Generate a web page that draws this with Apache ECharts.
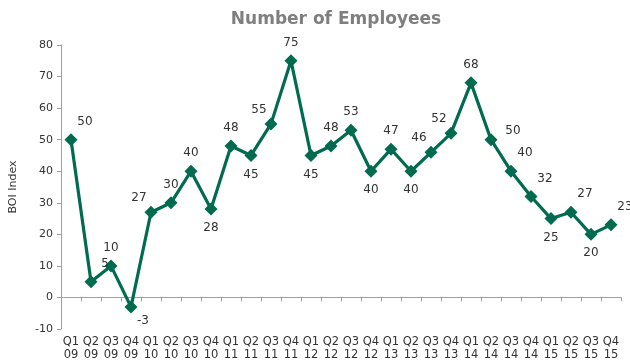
<!DOCTYPE html>
<html>
<head>
<meta charset="utf-8">
<script src="https://cdn.jsdelivr.net/npm/echarts@6/dist/echarts.min.js"></script>
<style>
  html, body { margin: 0; padding: 0; background: #fff; }
  #chart { width: 630px; height: 362px; }
</style>
</head>
<body>
<div id="chart"></div>
<script>
// Quarterly BOI index for number of employees
const quarters = ['Q1\n09','Q2\n09','Q3\n09','Q4\n09','Q1\n10','Q2\n10','Q3\n10','Q4\n10',
  'Q1\n11','Q2\n11','Q3\n11','Q4\n11','Q1\n12','Q2\n12','Q3\n12','Q4\n12',
  'Q1\n13','Q2\n13','Q3\n13','Q4\n13','Q1\n14','Q2\n14','Q3\n14','Q4\n14',
  'Q1\n15','Q2\n15','Q3\n15','Q4\n15'];
const employees = [50, 5, 10, -3, 27, 30, 40, 28, 48, 45, 55, 75, 45, 48, 53, 40,
  47, 40, 46, 52, 68, 50, 40, 32, 25, 27, 20, 23];
const yTicks = { min: -10, max: 80, interval: 10 };

// where each value label sits relative to its marker
const labelSpots = ['tr','tr','t','br','tl','t','t','b','t','b','tl','t','b','t','t','b',
  't','b','tl','tl','t','r','tr','tr','b','tr','b','tr'];
const spotOffset = {
  t: [0, -18], b: [0, 19], tl: [-12, -14], tr: [14, -18], br: [12, 14], r: [22, -9]
};

const green = '#006B4F';
const chart = echarts.init(document.getElementById('chart'));

chart.setOption({
  animation: false,
  title: {
    text: 'Number of Employees',
    left: 331, top: 6, textAlign: 'center',
    textStyle: { fontFamily: 'DejaVu Sans', fontSize: 17, fontWeight: 'bold', color: '#7f7f7f' }
  },
  grid: { left: 59, right: 9, top: 45, bottom: 33 },
  xAxis: [
    {
      type: 'category', data: quarters, position: 'bottom',
      axisLine: { show: false }, axisTick: { show: false },
      axisLabel: { fontFamily: 'DejaVu Sans', fontSize: 11.5, color: '#333', lineHeight: 13, margin: 7, interval: 0 }
    },
    {
      type: 'category', data: quarters, position: 'bottom', gridIndex: 0,
      axisLine: { onZero: true, onZeroAxisIndex: 0, lineStyle: { color: '#a0a0a0', width: 1 } },
      axisTick: { show: true, inside: false, length: 4, interval: 0, lineStyle: { color: '#a0a0a0' } },
      axisLabel: { show: false }
    }
  ],
  yAxis: {
    type: 'value', min: yTicks.min, max: yTicks.max, interval: yTicks.interval,
    name: 'BOI Index', nameLocation: 'middle', nameGap: 42, nameRotate: 90,
    nameTextStyle: { fontFamily: 'DejaVu Sans', fontSize: 11, color: '#333' },
    axisLine: { show: true, lineStyle: { color: '#a0a0a0' } },
    axisTick: { show: true, length: 4, lineStyle: { color: '#a0a0a0' } },
    splitLine: { show: false },
    axisLabel: { fontFamily: 'DejaVu Sans', fontSize: 11, color: '#333', margin: 8 }
  },
  series: [{
    type: 'line',
    xAxisIndex: 0,
    data: employees.map((v, i) => ({
      value: v,
      label: { offset: spotOffset[labelSpots[i]] }
    })),
    lineStyle: { color: green, width: 3.2 },
    itemStyle: { color: green },
    symbol: 'diamond', symbolSize: [13, 13],
    label: {
      show: true, position: 'inside',
      fontFamily: 'DejaVu Sans', fontSize: 12, color: '#333'
    }
  }]
});
</script>
</body>
</html>
